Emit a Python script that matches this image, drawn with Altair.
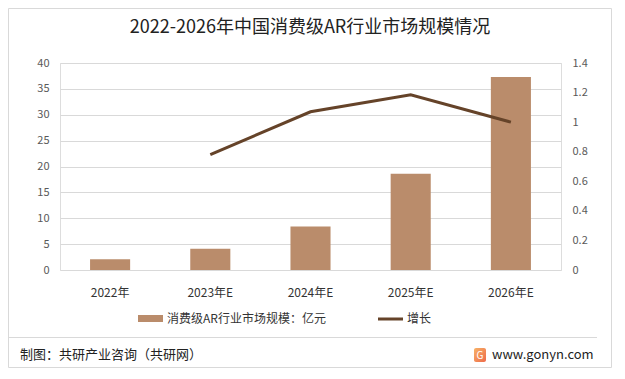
import altair as alt
import pandas as pd

years = ["2022年", "2023年E", "2024年E", "2025年E", "2026年E"]
market = [2.1, 4.1, 8.4, 18.6, 37.3]
growth = [None, 0.78, 1.07, 1.185, 1.0]

left_ticks = [0, 5, 10, 15, 20, 25, 30, 35, 40]
right_ticks = [0, 0.2, 0.4, 0.6, 0.8, 1.0, 1.2, 1.4]

title_text = "2022-2026年中国消费级AR行业市场规模情况"
legend_bar = "消费级AR行业市场规模：亿元"
legend_line = "增长"
footer_left = "制图：共研产业咨询（共研网）"
footer_right = "www.gonyn.com"

df = pd.DataFrame({"year": years, "market": market, "growth": growth})
one = pd.DataFrame({"a": [0]})

FONT = "Noto Sans CJK SC"
BAR = "#BA8C6B"
LINE = "#654329"

x = alt.X("year:N", sort=years, title=None,
          scale=alt.Scale(paddingInner=0.6, paddingOuter=0.3),
          axis=alt.Axis(labelAngle=0, domain=False, ticks=False, labelPadding=17,
                        labelFontSize=12, labelColor="#333333", labelFont=FONT, grid=False))

bars = alt.Chart(df).mark_bar(color=BAR).encode(
    x=x,
    y=alt.Y("market:Q", title=None,
            scale=alt.Scale(domain=[0, 40], nice=False),
            axis=alt.Axis(values=left_ticks, domain=False, ticks=False, labelPadding=11,
                          labelFontSize=11, labelColor="#595959", labelFont=FONT,
                          grid=True, gridColor="#d9d9d9", orient="left")),
)

line = alt.Chart(df).mark_line(color=LINE, strokeWidth=3).encode(
    x=alt.X("year:N", sort=years),
    y=alt.Y("growth:Q", title=None,
            scale=alt.Scale(domain=[0, 1.4], nice=False),
            axis=alt.Axis(values=right_ticks, format="~g", domain=False, ticks=False,
                          labelPadding=11, labelFontSize=11, labelColor="#595959",
                          labelFont=FONT, grid=False, orient="right")),
)

main = alt.layer(bars, line).resolve_scale(y="independent")

def txt(text, xv, yv, size, color="#333333", align="left", baseline="middle"):
    return alt.Chart(one).mark_text(text=text, font=FONT, fontSize=size, color=color,
                                    align=align, baseline=baseline).encode(
        x=alt.value(xv), y=alt.value(yv))

border = alt.Chart(one).mark_rect(fill=None, stroke="#d9d9d9", strokeWidth=1).encode(
    x=alt.value(-51.5), x2=alt.value(551.5), y=alt.value(-54.5), y2=alt.value(304.5))

title = txt(title_text, 250, -35, 18, color="#222222", align="center")

leg_rect = alt.Chart(one).mark_rect(color=BAR).encode(
    x=alt.value(78), x2=alt.value(103), y=alt.value(252), y2=alt.value(259))
leg_t1 = txt(legend_bar, 107, 256, 12)
leg_rule = alt.Chart(one).mark_rule(color=LINE, strokeWidth=3).encode(
    x=alt.value(318), x2=alt.value(343), y=alt.value(256))
leg_t2 = txt(legend_line, 347, 256, 12)

sep = alt.Chart(one).mark_rule(color="#d9d9d9", strokeWidth=1).encode(
    x=alt.value(-52), x2=alt.value(537), y=alt.value(274.5))
foot1 = txt(footer_left, -40, 292, 13, color="#222222")
logo = alt.Chart(one).mark_rect(
    color=alt.Gradient(gradient="linear", stops=[alt.GradientStop(color="#F7B267", offset=0),
                                                 alt.GradientStop(color="#EE6A4A", offset=1)],
                       x1=0, x2=1, y1=0, y2=1),
    cornerRadius=2).encode(
    x=alt.value(414), x2=alt.value(426), y=alt.value(285), y2=alt.value(299))
logo_g = txt("G", 420, 292.5, 10, color="white", align="center")
foot2 = txt(footer_right, 432, 292, 13, color="#222222")

chart = alt.layer(
    border, main, title, leg_rect, leg_t1, leg_rule, leg_t2, sep, foot1, logo, logo_g, foot2
).resolve_scale(y="independent").properties(
    width=501, height=207,
    autosize=alt.AutoSizeParams(type="none"),
    padding={"left": 52, "top": 55, "right": 51, "bottom": 98},
).configure_view(stroke=None).configure(background="white")

chart.save("out.html", embed_options={"renderer": "svg", "actions": False})
